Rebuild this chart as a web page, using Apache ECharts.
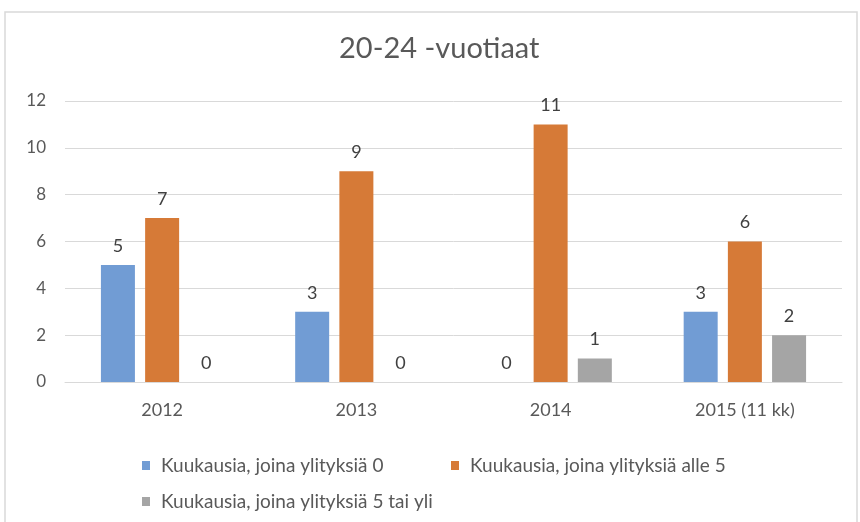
<!DOCTYPE html>
<html><head><meta charset="utf-8">
<script src="https://cdn.jsdelivr.net/npm/echarts@6/dist/echarts.min.js"></script>
<style>html,body{margin:0;padding:0;background:#fff}#c{width:860px;height:522px}</style>
</head><body><div id="c"></div>
<script>
const categories = ['2012', '2013', '2014', '2015 (11 kk)'];
const seriesNames = ['Kuukausia, joina ylityksiä 0', 'Kuukausia, joina ylityksiä alle 5', 'Kuukausia, joina ylityksiä 5 tai yli'];
const zeroValues = [5, 3, 0, 3];
const under5Values = [7, 9, 11, 6];
const over5Values = [0, 0, 1, 2];
const colors = ['#719CD4', '#D67A37', '#A5A5A5'];
const FONT = 'Lato';

const chart = echarts.init(document.getElementById('c'), null, {renderer: 'canvas'});
const label = {show: true, position: 'top', distance: 10, color: '#404040', fontSize: 18, fontFamily: FONT};
function mk(name, data, color) {
  return {name, type: 'bar', data, barWidth: 34, barGap: '30%', itemStyle: {color}, label};
}
const legendBase = {orient: 'horizontal', icon: 'rect', itemWidth: 8, itemHeight: 9, itemGap: 40,
  textStyle: {color: '#595959', fontSize: 19, fontFamily: FONT, padding: [0, 0, 0, 6]}, selectedMode: false};
chart.setOption({
  animation: false,
  backgroundColor: '#fff',
  graphic: [{type: 'rect', shape: {x: 5, y: 12, width: 852, height: 520}, style: {fill: 'none', stroke: '#d9d9d9', lineWidth: 1.5}, silent: true}],
  title: {text: '20-24 -vuotiaat', left: 334, top: 29, textStyle: {color: '#595959', fontSize: 29, fontWeight: 'normal', fontFamily: FONT}},
  legend: [
    Object.assign({}, legendBase, {data: [seriesNames[0]], left: 137, top: 451}),
    Object.assign({}, legendBase, {data: [seriesNames[1]], left: 446, top: 451}),
    Object.assign({}, legendBase, {data: [seriesNames[2]], left: 137, top: 487})
  ],
  grid: {left: 65, right: 18, top: 101, bottom: 140, containLabel: false},
  xAxis: {type: 'category', data: categories,
    axisLine: {lineStyle: {color: '#d9d9d9', width: 1}}, axisTick: {show: false},
    axisLabel: {color: '#595959', fontSize: 18, fontFamily: FONT, margin: 19}},
  yAxis: {type: 'value', min: 0, max: 12, interval: 2,
    axisLine: {show: false}, axisTick: {show: false},
    splitLine: {lineStyle: {color: '#d9d9d9', width: 1}},
    axisLabel: {color: '#595959', fontSize: 17, fontFamily: FONT, margin: 19}},
  series: [mk(seriesNames[0], zeroValues, colors[0]), mk(seriesNames[1], under5Values, colors[1]), mk(seriesNames[2], over5Values, colors[2])]
});
</script></body></html>
